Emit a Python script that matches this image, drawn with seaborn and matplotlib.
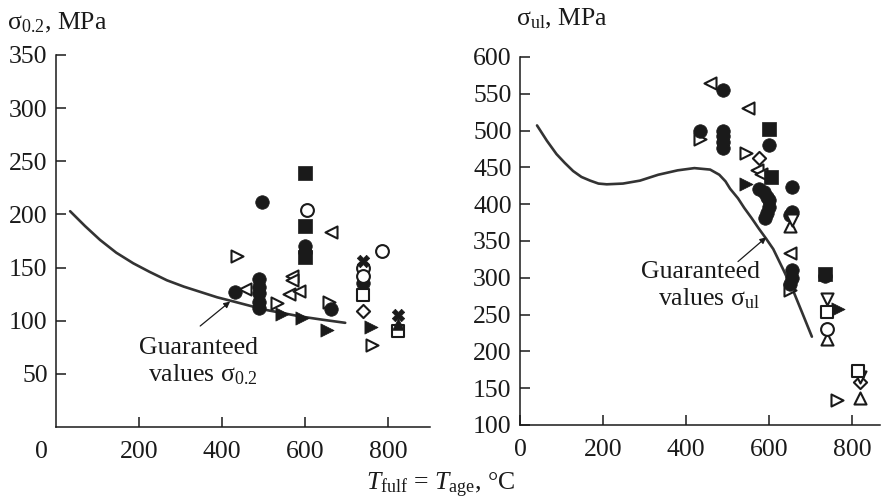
import matplotlib
matplotlib.use("Agg")
import matplotlib.pyplot as plt
import seaborn as sns
import pandas as pd

# ---- guaranteed-value curves (T, MPa) ----
ys_curve_t = [34, 70, 106, 145, 186, 225, 267, 308, 348, 388, 428, 467, 507, 548, 588, 640, 696]
ys_curve_v = [203, 189, 176, 164, 154, 146, 138, 132, 127, 122, 118, 114, 110, 107, 104, 101, 98]

uts_curve_t = [41, 65, 88, 108, 128, 148, 169, 189, 209, 248, 289, 333, 380, 420, 458, 480, 495,
               506, 525, 540, 558, 575, 593, 610, 635, 659, 680, 703]
uts_curve_v = [507, 486, 468, 456, 445, 437, 432, 428, 427, 428, 432, 440, 446, 449, 447, 440, 431,
               421, 408, 395, 381, 367, 353, 339, 310, 281, 252, 220]

# ---- yield strength sigma_0.2 test results ----
ys_fcirc_t = [495, 430, 488, 488, 488, 488, 488, 600, 600, 661, 740]
ys_fcirc_v = [212, 127, 139, 132, 126, 118, 112, 170, 165, 111, 135]
ys_fsq_t = [600, 600, 600]
ys_fsq_v = [239, 189, 160]
ys_ocirc_t = [604, 740, 740, 785]
ys_ocirc_v = [204, 150, 142, 166]
ys_osq_t = [740, 822]
ys_osq_v = [124, 90]
ys_odia_t = [740]
ys_odia_v = [109]
ys_frtri_t = [544, 592, 652, 757]
ys_frtri_v = [106, 103, 91, 94]
ys_ortri_t = [435, 532, 656, 761]
ys_ortri_v = [161, 117, 118, 77]
ys_oltri_t = [455, 568, 568, 560, 584, 661]
ys_oltri_v = [130, 142, 138, 125, 128, 183]
ys_cross_t = [822, 740]
ys_cross_v = [105, 156]
ys_ftri_t = [822]
ys_ftri_v = [97]

# ---- ultimate strength sigma_ul test results ----
uts_fcirc_t = [490, 434, 490, 490, 490, 490, 600, 575, 588, 595, 600, 600, 595, 590,
               655, 655, 650, 655, 655, 650, 735]
uts_fcirc_v = [555, 500, 499, 492, 484, 477, 480, 420, 416, 410, 405, 396, 388, 381,
               423, 390, 385, 310, 300, 292, 303]
uts_fsq_t = [600, 605, 735]
uts_fsq_v = [502, 437, 305]
uts_oltri_t = [458, 550, 570, 580, 650]
uts_oltri_v = [565, 530, 446, 441, 333]
uts_ortri_t = [434, 545, 650, 763]
uts_ortri_v = [488, 470, 283, 134]
uts_odia_t = [575, 820]
uts_odia_v = [463, 159]
uts_frtri_t = [545, 766]
uts_frtri_v = [428, 258]
uts_otri_t = [650, 740, 820]
uts_otri_v = [370, 217, 137]
uts_ovtri_t = [655, 740, 820]
uts_ovtri_v = [378, 271, 165]
uts_osq_t = [740, 815]
uts_osq_v = [254, 173]
uts_ocirc_t = [740]
uts_ocirc_v = [231]

ys_ticks = [50, 100, 150, 200, 250, 300, 350]
uts_ticks = [100, 150, 200, 250, 300, 350, 400, 450, 500, 550, 600]
t_ticks_left = [200, 400, 600, 800]
t_ticks_right = [0, 200, 400, 600, 800]

sns.set_style("ticks")
plt.rcParams["font.family"] = ["Liberation Serif", "DejaVu Serif"]
plt.rcParams["mathtext.fontset"] = "custom"
plt.rcParams["mathtext.rm"] = "Liberation Serif"
plt.rcParams["mathtext.it"] = "Liberation Serif:italic"

INK = "#1a1a1a"
FS = 18.5

fig = plt.figure(figsize=(8.86, 4.98), dpi=100)
ax1 = fig.add_axes([0.0632, 0.1426, 0.4221, 0.747])
ax2 = fig.add_axes([0.5869, 0.1466, 0.4063, 0.739])


def pts(ax, t, v, marker, filled, s=80, lw=1.5):
    df = pd.DataFrame({"T": t, "S": v})
    if filled:
        sns.scatterplot(data=df, x="T", y="S", marker=marker, s=s, color=INK,
                        edgecolor=INK, linewidth=0.5, ax=ax, zorder=3)
    else:
        sns.scatterplot(data=df, x="T", y="S", marker=marker, s=s, color="white",
                        edgecolor=INK, linewidth=lw, ax=ax, zorder=3)


def curve(ax, t, v):
    df = pd.DataFrame({"T": t, "S": v})
    sns.lineplot(data=df, x="T", y="S", color="#333333", linewidth=1.9, ax=ax,
                 sort=False, zorder=2)


# left panel
curve(ax1, ys_curve_t, ys_curve_v)
pts(ax1, ys_ortri_t, ys_ortri_v, ">", False, s=75)
pts(ax1, ys_oltri_t, ys_oltri_v, "<", False, s=75)
pts(ax1, ys_fcirc_t, ys_fcirc_v, "o", True, s=95)
pts(ax1, ys_fsq_t, ys_fsq_v, "s", True, s=95)
pts(ax1, ys_ocirc_t, ys_ocirc_v, "o", False, s=85)
pts(ax1, ys_osq_t, ys_osq_v, "s", False, s=85)
pts(ax1, ys_odia_t, ys_odia_v, "D", False, s=45)
pts(ax1, ys_frtri_t, ys_frtri_v, ">", True, s=90)
pts(ax1, ys_ftri_t, ys_ftri_v, "^", True, s=70)
pts(ax1, ys_cross_t, ys_cross_v, "X", True, s=80)

# right panel
curve(ax2, uts_curve_t, uts_curve_v)
pts(ax2, uts_ortri_t, uts_ortri_v, ">", False, s=75)
pts(ax2, uts_oltri_t, uts_oltri_v, "<", False, s=75)
pts(ax2, uts_fcirc_t, uts_fcirc_v, "o", True, s=95)
pts(ax2, uts_fsq_t, uts_fsq_v, "s", True, s=95)
pts(ax2, uts_odia_t, uts_odia_v, "D", False, s=45)
pts(ax2, uts_frtri_t, uts_frtri_v, ">", True, s=90)
pts(ax2, uts_otri_t, uts_otri_v, "^", False, s=75)
pts(ax2, uts_ovtri_t, uts_ovtri_v, "v", False, s=75)
pts(ax2, uts_osq_t, uts_osq_v, "s", False, s=85)
pts(ax2, uts_ocirc_t, uts_ocirc_v, "o", False, s=85)

ax1.set_xlim(0, 900)
ax1.set_ylim(0, 350)
ax1.set_xticks(t_ticks_left)
ax1.set_yticks(ys_ticks)
ax2.set_xlim(0, 867)
ax2.set_ylim(100, 600)
ax2.set_xticks(t_ticks_right)
ax2.set_yticks(uts_ticks)

for ax in (ax1, ax2):
    sns.despine(ax=ax)
    for sp in ("left", "bottom"):
        ax.spines[sp].set_color(INK)
        ax.spines[sp].set_linewidth(1.1)
    ax.tick_params(direction="in", length=7, width=1.1, color=INK,
                   labelsize=FS, labelcolor=INK)
    ax.tick_params(axis="x", pad=10)
    ax.tick_params(axis="y", pad=6)
    ax.set_xlabel("")
    ax.set_ylabel("")

# shared origin label of the left panel
ax1.text(-0.04, -0.068, "0", transform=ax1.transAxes, fontsize=FS, color=INK,
         ha="center", va="center")

# axis titles
fig.text(0.008, 0.955, "σ$_{\\mathregular{0.2}}$, MPa", fontsize=FS, color=INK,
         ha="left", va="center")
fig.text(0.582, 0.962, "σ$_{\\mathregular{ul}}$, MPa", fontsize=FS, color=INK,
         ha="left", va="center")
fig.text(0.497, 0.026, "$T_{\\mathregular{fulf}}$ = $T_{\\mathregular{age}}$, °C",
         fontsize=FS, color=INK, ha="center", va="center")

# annotations
ax1.text(486, 61, "Guaranteed\nvalues σ$_{\\mathregular{0.2}}$", fontsize=FS, color=INK,
         ha="right", va="center", multialignment="right", linespacing=1.2)
ax1.annotate("", xy=(419, 118), xytext=(347, 95),
             arrowprops=dict(arrowstyle="-|>", color=INK, lw=0.9, mutation_scale=9,
                             shrinkA=0, shrinkB=0))
ax2.text(578, 289, "Guaranteed\nvalues σ$_{\\mathregular{ul}}$", fontsize=FS, color=INK,
         ha="right", va="center", multialignment="right", linespacing=1.2)
ax2.annotate("", xy=(593, 355), xytext=(525, 322),
             arrowprops=dict(arrowstyle="-|>", color=INK, lw=0.9, mutation_scale=9,
                             shrinkA=0, shrinkB=0))

fig.savefig("out.png", dpi=100)
